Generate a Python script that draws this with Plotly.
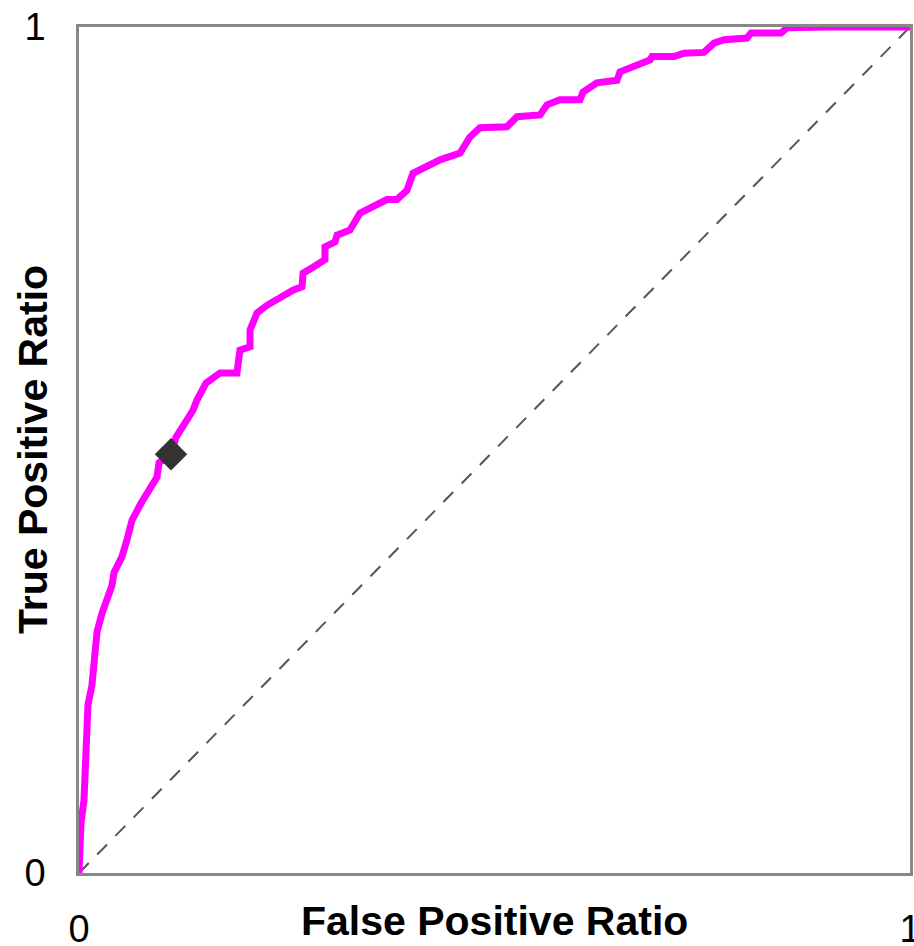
import plotly.graph_objects as go

# ROC curve points (false positive ratio, true positive ratio)
fpr = [0.0, 0.0012, 0.0024, 0.006, 0.0072, 0.0084, 0.0108, 0.0156, 0.0193, 0.0217,
       0.0277, 0.0349, 0.0397, 0.0421, 0.0517, 0.0578, 0.0638, 0.0746, 0.0842, 0.0939,
       0.0963, 0.1107, 0.1167, 0.1288, 0.1372, 0.1420, 0.1528, 0.1697, 0.1901, 0.1937,
       0.2058, 0.2058, 0.2142, 0.2262, 0.2419, 0.2575, 0.2684, 0.2696, 0.2816, 0.2960,
       0.2960, 0.3081, 0.3105, 0.3261, 0.3381, 0.3586, 0.3706, 0.3827, 0.3947, 0.4019,
       0.4200, 0.4344, 0.4585, 0.4705, 0.4826, 0.5150, 0.5271, 0.5548, 0.5632, 0.5788,
       0.6029, 0.6065, 0.6233, 0.6474, 0.6510, 0.6715, 0.6871, 0.6895, 0.7160, 0.7280,
       0.7521, 0.7641, 0.7762, 0.8039, 0.8087, 0.8448, 0.8520, 0.9001, 1.0]
tpr = [0.0, 0.039, 0.059, 0.086, 0.134, 0.181, 0.199, 0.222, 0.252, 0.285,
       0.307, 0.329, 0.340, 0.355, 0.374, 0.394, 0.417, 0.437, 0.453, 0.468,
       0.485, 0.495, 0.515, 0.532, 0.547, 0.559, 0.579, 0.591, 0.591, 0.618,
       0.622, 0.642, 0.662, 0.671, 0.681, 0.689, 0.693, 0.709, 0.716, 0.725,
       0.740, 0.746, 0.754, 0.760, 0.780, 0.790, 0.796, 0.796, 0.807, 0.827,
       0.835, 0.843, 0.851, 0.870, 0.881, 0.882, 0.894, 0.896, 0.908, 0.914,
       0.914, 0.923, 0.934, 0.937, 0.947, 0.955, 0.961, 0.965, 0.965, 0.969,
       0.970, 0.981, 0.985, 0.987, 0.993, 0.993, 0.999, 1.0, 1.0]

# Operating point marker
op_fpr = [0.1107]
op_tpr = [0.495]

# Chance diagonal
diag_x = [0, 1]
diag_y = [0, 1]

tick_vals = [0, 1]
tick_text = ["0", "1"]

FONT = "Liberation Sans, Arial, sans-serif"

fig = go.Figure()
fig.add_trace(go.Scatter(x=diag_x, y=diag_y, mode="lines",
                         line=dict(color="#555555", width=2, dash="14px,12px"),
                         hoverinfo="skip", showlegend=False))
fig.add_trace(go.Scatter(x=fpr, y=tpr, mode="lines",
                         line=dict(color="#FF00FF", width=7),
                         showlegend=False))
fig.add_trace(go.Scatter(x=op_fpr, y=op_tpr, mode="markers",
                         marker=dict(symbol="diamond", size=25, color="#333333"),
                         showlegend=False))

axis_common = dict(range=[0, 1], showgrid=False, zeroline=False, automargin=False,
                   showline=True, linecolor="#888888", linewidth=2.5, mirror=True,
                   tickvals=tick_vals, ticktext=tick_text, ticks="",
                   ticklabeloverflow="allow",
                   tickfont=dict(family=FONT, size=38, color="black"))

fig.update_layout(
    width=914, height=946,
    margin=dict(l=79, r=4, t=27, b=73, autoexpand=False),
    paper_bgcolor="white", plot_bgcolor="white",
    xaxis=dict(**axis_common, ticklabelstandoff=21),
    yaxis=dict(**axis_common, ticklabelstandoff=23),
    annotations=[
        dict(text="<b>False Positive Ratio</b>", xref="paper", yref="paper",
             x=0.5, y=0, yanchor="middle", xanchor="center", yshift=-48,
             showarrow=False, font=dict(family=FONT, size=41, color="black")),
        dict(text="<b>True Positive Ratio</b>", xref="paper", yref="paper",
             x=0, y=0.5, xanchor="center", yanchor="middle", xshift=-46,
             textangle=-90, showarrow=False,
             font=dict(family=FONT, size=41, color="black")),
    ],
)

fig.write_html("out.html",
               config={"displayModeBar": False},
               post_script="document.body.style.margin='0px';"
                           "document.body.style.overflow='hidden';")
